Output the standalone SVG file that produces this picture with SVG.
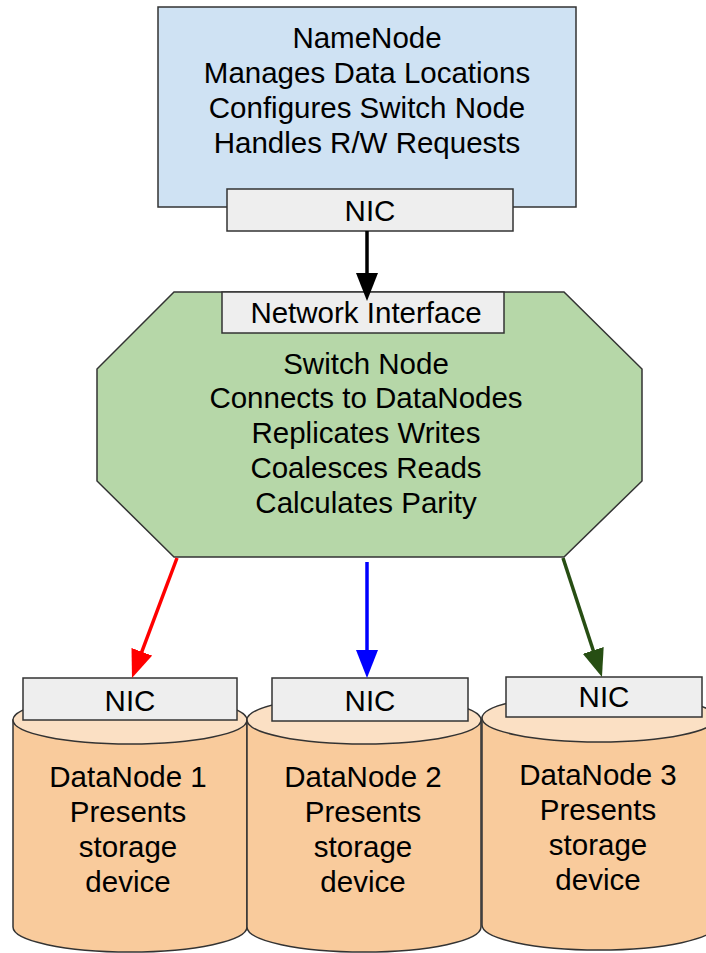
<svg xmlns="http://www.w3.org/2000/svg" width="706" height="953" viewBox="0 0 706 953">
<style>
text{font-family:"Liberation Sans",Arial,sans-serif;font-size:29.5px;fill:#000;text-anchor:middle}
.box{stroke:#333;stroke-width:1.5}
.name{fill:#cfe2f3}
.nic{fill:#eeeeee}
.sw{fill:#b6d7a8}
.body{fill:#f9cb9c;stroke:#333;stroke-width:1.5}
.top{fill:#fbe0c4;stroke:#333;stroke-width:1.5}
.ln{fill:none;stroke-width:3.5}
</style>
<defs>
<marker id="ab" markerUnits="userSpaceOnUse" markerWidth="30" markerHeight="24" refX="14" refY="11" orient="auto" viewBox="0 0 30 24"><path d="M0,0 L28,11 L0,22 z" fill="#000"/></marker>
<marker id="ar" markerUnits="userSpaceOnUse" markerWidth="30" markerHeight="24" refX="14" refY="11" orient="auto" viewBox="0 0 30 24"><path d="M0,0 L28,11 L0,22 z" fill="#ff0000"/></marker>
<marker id="abl" markerUnits="userSpaceOnUse" markerWidth="30" markerHeight="24" refX="14" refY="11" orient="auto" viewBox="0 0 30 24"><path d="M0,0 L28,11 L0,22 z" fill="#0000ff"/></marker>
<marker id="ag" markerUnits="userSpaceOnUse" markerWidth="30" markerHeight="24" refX="14" refY="11" orient="auto" viewBox="0 0 30 24"><path d="M0,0 L28,11 L0,22 z" fill="#274e13"/></marker>
</defs>

<g id="namenode">
<rect class="box name" x="158" y="7" width="418" height="200"/>
<text x="367" y="48">NameNode</text>
<text x="367" y="83">Manages Data Locations</text>
<text x="367" y="118">Configures Switch Node</text>
<text x="367" y="153">Handles R/W Requests</text>
<rect class="box nic" x="227" y="189" width="286" height="42"/>
<text x="370" y="221">NIC</text>
</g>

<g id="switchnode">
<polygon class="box sw" points="174,292 564,292 642,369 642,481 564,557 174,557 97,481 97,369"/>
<rect class="box nic" x="222" y="292" width="282" height="41"/>
<text x="366" y="323">Network Interface</text>
<text x="366" y="374">Switch Node</text>
<text x="366" y="408">Connects to DataNodes</text>
<text x="366" y="443">Replicates Writes</text>
<text x="366" y="478">Coalesces Reads</text>
<text x="366" y="513">Calculates Parity</text>
</g>

<g id="datanode1">
<path class="body" d="M13,720 L13,927 A117,25 0 0 0 247,927 L247,720 Z"/>
<ellipse class="top" cx="130" cy="720" rx="117" ry="24"/>
<rect class="box nic" x="23" y="678" width="214" height="42"/>
<text x="130" y="711">NIC</text>
<text x="128" y="787">DataNode 1</text>
<text x="128" y="822">Presents</text>
<text x="128" y="857">storage</text>
<text x="128" y="892">device</text>
</g>

<g id="datanode2">
<path class="body" d="M247,720 L247,927 A117,25 0 0 0 481,927 L481,720 Z"/>
<ellipse class="top" cx="364" cy="720" rx="117" ry="24"/>
<rect class="box nic" x="272" y="678" width="196" height="43"/>
<text x="370" y="711">NIC</text>
<text x="363" y="787">DataNode 2</text>
<text x="363" y="822">Presents</text>
<text x="363" y="857">storage</text>
<text x="363" y="892">device</text>
</g>

<g id="datanode3">
<path class="body" d="M482,718 L482,925 A117,25 0 0 0 716,925 L716,718 Z"/>
<ellipse class="top" cx="599" cy="718" rx="117" ry="24"/>
<rect class="box nic" x="506" y="677" width="196" height="40"/>
<text x="604" y="707">NIC</text>
<text x="598" y="785">DataNode 3</text>
<text x="598" y="820">Presents</text>
<text x="598" y="855">storage</text>
<text x="598" y="890">device</text>
</g>

<g id="connectors">
<line class="ln" x1="367" y1="231" x2="367" y2="287" stroke="#000" marker-end="url(#ab)"/>
<line class="ln" x1="177" y1="558" x2="136.9" y2="664.9" stroke="#ff0000" marker-end="url(#ar)"/>
<line class="ln" x1="367" y1="562" x2="367" y2="664" stroke="#0000ff" marker-end="url(#abl)"/>
<line class="ln" x1="563" y1="558" x2="597.6" y2="663.7" stroke="#274e13" marker-end="url(#ag)"/>
</g>
</svg>
